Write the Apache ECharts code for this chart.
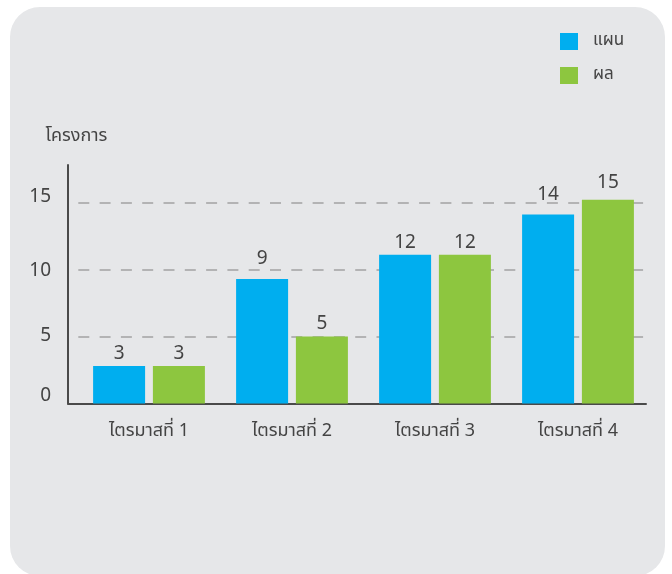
<!DOCTYPE html>
<html>
<head>
<meta charset="utf-8">
<script src="https://cdn.jsdelivr.net/npm/echarts@6/dist/echarts.min.js"></script>
<style>
  html, body { margin: 0; padding: 0; background: #ffffff; }
  #card { position: absolute; left: 10px; top: 7px; width: 655px; height: 569px; border-radius: 30px; background: #e6e7e9; }
  #chart { position: absolute; left: 0; top: 0; width: 672px; height: 574px; }
</style>
</head>
<body>
<div id="card"></div>
<div id="chart"></div>
<script>
// ---- data ----
const categories = ['ไตรมาสที่ 1', 'ไตรมาสที่ 2', 'ไตรมาสที่ 3', 'ไตรมาสที่ 4'];
const seriesNames = ['แผน', 'ผล'];
const planValues = [2.8, 9.3, 11.1, 14.1];     // bar heights as drawn
const resultValues = [2.8, 5.0, 11.1, 15.2];
const planLabels = ['3', '9', '12', '14'];      // printed value labels
const resultLabels = ['3', '5', '12', '15'];
const yTicks = [0, 5, 10, 15];
const yAxisName = 'โครงการ';

// ---- style ----
const FONT = "'Noto Sans Thai', 'Noto Sans', 'DejaVu Sans', sans-serif";
const TEXT = '#444444';
const planLabelGap = [1, 9, 1, 9];
const resultLabelGap = [1, 2, 1, 6];
const tickShift = {0: 6.5, 5: -1, 10: -3, 15: 4};

const yMax = 17.8;

function items(values, labels, gaps) {
  return values.map((v, i) => ({
    value: v,
    label: { formatter: labels[i], distance: gaps[i] }
  }));
}

const rich = {};
yTicks.forEach(t => {
  const s = tickShift[t];
  rich['t' + t] = {
    fontSize: 19, color: TEXT, fontFamily: FONT,
    padding: [s < 0 ? -s * 2 : 0, 0, s > 0 ? s * 2 : 0, 0]
  };
});

const chart = echarts.init(document.getElementById('chart'), null, { renderer: 'canvas' });
chart.setOption({
  backgroundColor: 'transparent',
  animation: false,
  textStyle: { fontFamily: FONT, color: TEXT },
  legend: {
    data: seriesNames,
    orient: 'vertical',
    left: 560,
    top: 33,
    padding: 0,
    itemWidth: 18,
    itemHeight: 17,
    itemGap: 17,
    icon: 'rect',
    textStyle: { fontSize: 17, color: TEXT, fontFamily: FONT, padding: [0, 0, 0, 10] }
  },
  grid: [
    { left: 68, right: 26, top: 165, bottom: 170.5 },
    { left: 77.5, right: 22.5, top: 165, bottom: 170.5 }
  ],
  xAxis: [
    {
      gridIndex: 0, type: 'value', min: 0, max: 1,
      axisLine: { show: true, onZero: false, lineStyle: { color: '#4a4a4a', width: 2 } },
      axisTick: { show: false }, axisLabel: { show: false }, splitLine: { show: false }
    },
    {
      gridIndex: 1, type: 'category', data: categories,
      axisLine: { show: false }, axisTick: { show: false },
      axisLabel: { margin: 20, fontSize: 18, color: TEXT, fontFamily: FONT }
    }
  ],
  yAxis: [
    {
      gridIndex: 0, type: 'value', min: 0, max: yMax, interval: 5,
      name: yAxisName, nameLocation: 'end', nameGap: 19,
      nameTextStyle: { fontSize: 18, color: TEXT, fontFamily: FONT, align: 'center', padding: [0, 0, 0, 17] },
      axisLine: { show: true, lineStyle: { color: '#4a4a4a', width: 2 } },
      axisTick: { show: false },
      splitLine: { show: false },
      axisLabel: {
        margin: 17, showMaxLabel: false,
        formatter: v => (v % 5 === 0 ? '{t' + v + '|' + v + '}' : ''),
        rich: rich
      }
    },
    {
      gridIndex: 1, type: 'value', min: 0, max: yMax, interval: 5,
      axisLine: { show: false }, axisTick: { show: false }, axisLabel: { show: false }, splitLine: { show: false }
    }
  ],
  series: [
    {
      name: seriesNames[0], type: 'bar', xAxisIndex: 1, yAxisIndex: 1,
      barWidth: 52, barGap: '15%',
      itemStyle: { color: '#00aeef' },
      label: { show: true, position: 'top', fontSize: 19, color: TEXT, fontFamily: FONT },
      data: items(planValues, planLabels, planLabelGap)
    },
    {
      name: seriesNames[1], type: 'bar', xAxisIndex: 1, yAxisIndex: 1,
      barWidth: 52, barGap: '15%',
      itemStyle: { color: '#8dc63f' },
      label: { show: true, position: 'top', fontSize: 19, color: TEXT, fontFamily: FONT },
      data: items(resultValues, resultLabels, resultLabelGap)
    },
    {
      name: 'grid', type: 'line', xAxisIndex: 0, yAxisIndex: 0, data: [], silent: true,
      markLine: {
        z: 1, silent: true, symbol: 'none', label: { show: false },
        lineStyle: { type: [11, 10.3], dashOffset: 11, color: '#a3a3a3', width: 1.5 },
        data: yTicks.filter(t => t > 0).map(t => ({ yAxis: t }))
      }
    }
  ]
});
</script>
</body>
</html>
